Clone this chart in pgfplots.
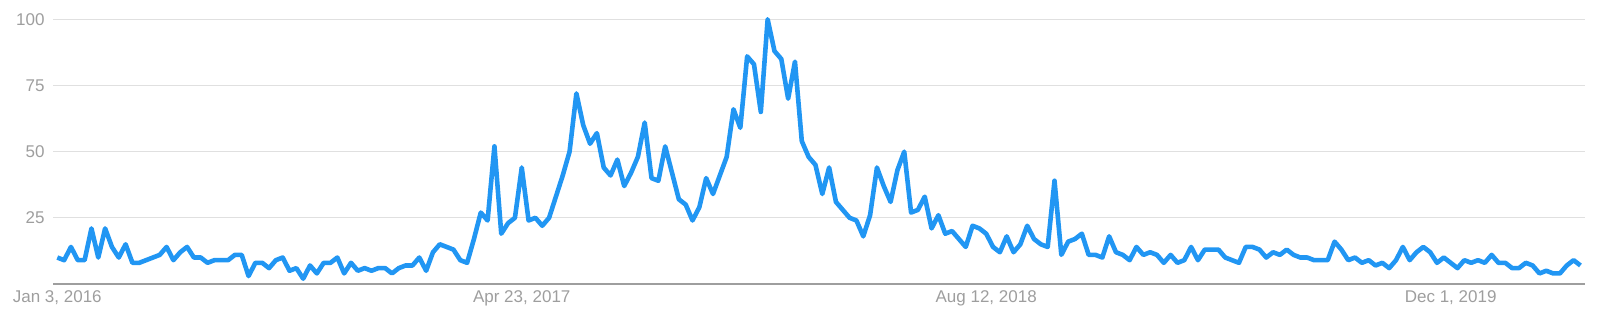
\documentclass[border=0pt]{standalone}
\usepackage{fontspec}
\setmainfont{Liberation Sans}
\usepackage{pgfplots}
\usepackage{pgfplotstable}
\pgfplotsset{compat=1.18}
\definecolor{trendblue}{RGB}{33,150,243}
\definecolor{gridgray}{RGB}{224,224,224}
\definecolor{basegray}{RGB}{158,158,158}
\definecolor{labelgray}{RGB}{158,158,158}
\pgfplotstableread{
i v
0 10
1 9
2 14
3 9
4 9
5 21
6 10
7 21
8 14
9 10
10 15
11 8
12 8
13 9
14 10
15 11
16 14
17 9
18 12
19 14
20 10
21 10
22 8
23 9
24 9
25 9
26 11
27 11
28 3
29 8
30 8
31 6
32 9
33 10
34 5
35 6
36 2
37 7
38 4
39 8
40 8
41 10
42 4
43 8
44 5
45 6
46 5
47 6
48 6
49 4
50 6
51 7
52 7
53 10
54 5
55 12
56 15
57 14
58 13
59 9
60 8
61 17
62 27
63 24
64 52
65 19
66 23
67 25
68 44
69 24
70 25
71 22
72 25
73 33
74 41
75 50
76 72
77 60
78 53
79 57
80 44
81 41
82 47
83 37
84 42
85 48
86 61
87 40
88 39
89 52
90 42
91 32
92 30
93 24
94 29
95 40
96 34
97 41
98 48
99 66
100 59
101 86
102 83
103 65
104 100
105 88
106 85
107 70
108 84
109 54
110 48
111 45
112 34
113 44
114 31
115 28
116 25
117 24
118 18
119 26
120 44
121 37
122 31
123 43
124 50
125 27
126 28
127 33
128 21
129 26
130 19
131 20
132 17
133 14
134 22
135 21
136 19
137 14
138 12
139 18
140 12
141 15
142 22
143 17
144 15
145 14
146 39
147 11
148 16
149 17
150 19
151 11
152 11
153 10
154 18
155 12
156 11
157 9
158 14
159 11
160 12
161 11
162 8
163 11
164 8
165 9
166 14
167 9
168 13
169 13
170 13
171 10
172 9
173 8
174 14
175 14
176 13
177 10
178 12
179 11
180 13
181 11
182 10
183 10
184 9
185 9
186 9
187 16
188 13
189 9
190 10
191 8
192 9
193 7
194 8
195 6
196 9
197 14
198 9
199 12
200 14
201 12
202 8
203 10
204 8
205 6
206 9
207 8
208 9
209 8
210 11
211 8
212 8
213 6
214 6
215 8
216 7
217 4
218 5
219 4
220 4
221 7
222 9
223 7
}\trenddata
\begin{document}
\begin{tikzpicture}
\path[use as bounding box] (0,0) rectangle (800pt,158pt);
\begin{axis}[
  at={(26.5pt,16pt)}, anchor=south west,
  scale only axis, width=766pt, height=132.35pt,
  xmin=-0.63, xmax=223.67, ymin=0, ymax=100,
  axis line style={draw=none},
  ytick={25,50,75,100},
  xtick={0,68,136,204},
  xticklabels={{Jan 3, 2016},{Apr 23, 2017},{Aug 12, 2018},{Dec 1, 2019}},
  major tick length=0pt,
  ymajorgrids,
  grid style={gridgray, line width=0.6pt},
  extra y ticks={0}, extra y tick labels={},
  extra y tick style={grid style={basegray, line width=0.7pt}},
  tick label style={font=\fontsize{8.5pt}{10pt}\selectfont, text=labelgray, inner sep=0pt},
  yticklabel style={xshift=-4pt},
  xticklabel style={yshift=-3pt},
  /pgf/number format/assume math mode=true,
  clip=false,
]
\addplot[trendblue, line width=2.3pt, line join=round] table[x=i,y=v] {\trenddata};
\end{axis}
\end{tikzpicture}
\end{document}
